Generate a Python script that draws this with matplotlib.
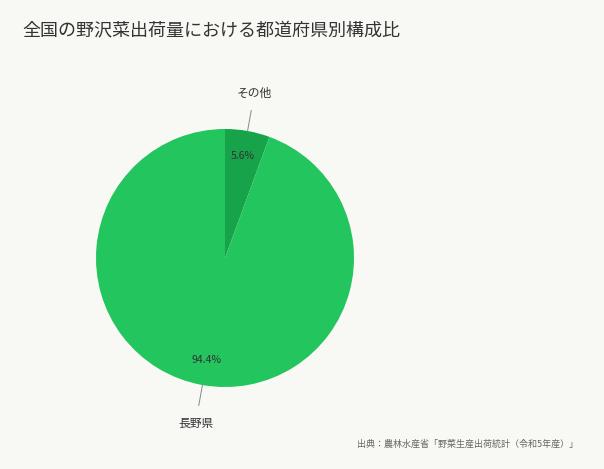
import numpy as np
import matplotlib.pyplot as plt

plt.rcParams['font.family'] = ['Noto Sans CJK JP', 'DejaVu Sans']

labels = ["その他", "長野県"]
values = [5.6, 94.4]
colors = ["#16a34a", "#22c55e"]
pct_text = ["5.6%", "94.4%"]

bg = "#f8f8f4"
fig = plt.figure(figsize=(6.04, 4.69), dpi=100, facecolor=bg)
W, H = 604, 469
cx, cy, r = 225, 258, 129
ax = fig.add_axes([(cx - r) / W, 1 - (cy + r) / H, 2 * r / W, 2 * r / H])
ax.set_facecolor(bg)

wedges, _ = ax.pie(values, colors=colors, startangle=90, counterclock=False,
                   radius=1, wedgeprops=dict(linewidth=0))
ax.set_xlim(-1, 1)
ax.set_ylim(-1, 1)
ax.set_aspect("equal")

for w, lab, pt in zip(wedges, labels, pct_text):
    mid = np.deg2rad((w.theta1 + w.theta2) / 2)
    c, s = np.cos(mid), np.sin(mid)
    ax.text(0.8 * c, 0.8 * s, pt, ha="center", va="center",
            fontsize=7.5, color="#333333")
    ax.annotate(lab, xy=(1.0 * c, 1.0 * s), xytext=(1.3 * c, 1.3 * s),
                ha="center", va="center", fontsize=8.5, color="#333333",
                arrowprops=dict(arrowstyle="-", color="#888888", lw=0.7,
                                shrinkA=6, shrinkB=0),
                annotation_clip=False)

fig.text(22 / W, 1 - 30 / H, "全国の野沢菜出荷量における都道府県別構成比",
         fontsize=13, color="#333333", va="center", ha="left")
fig.text(578 / W, 1 - 444 / H, "出典：農林水産省「野菜生産出荷統計（令和5年産）」",
         fontsize=6.5, color="#666666", va="center", ha="right")

fig.savefig("out.png", dpi=100, facecolor=bg)
